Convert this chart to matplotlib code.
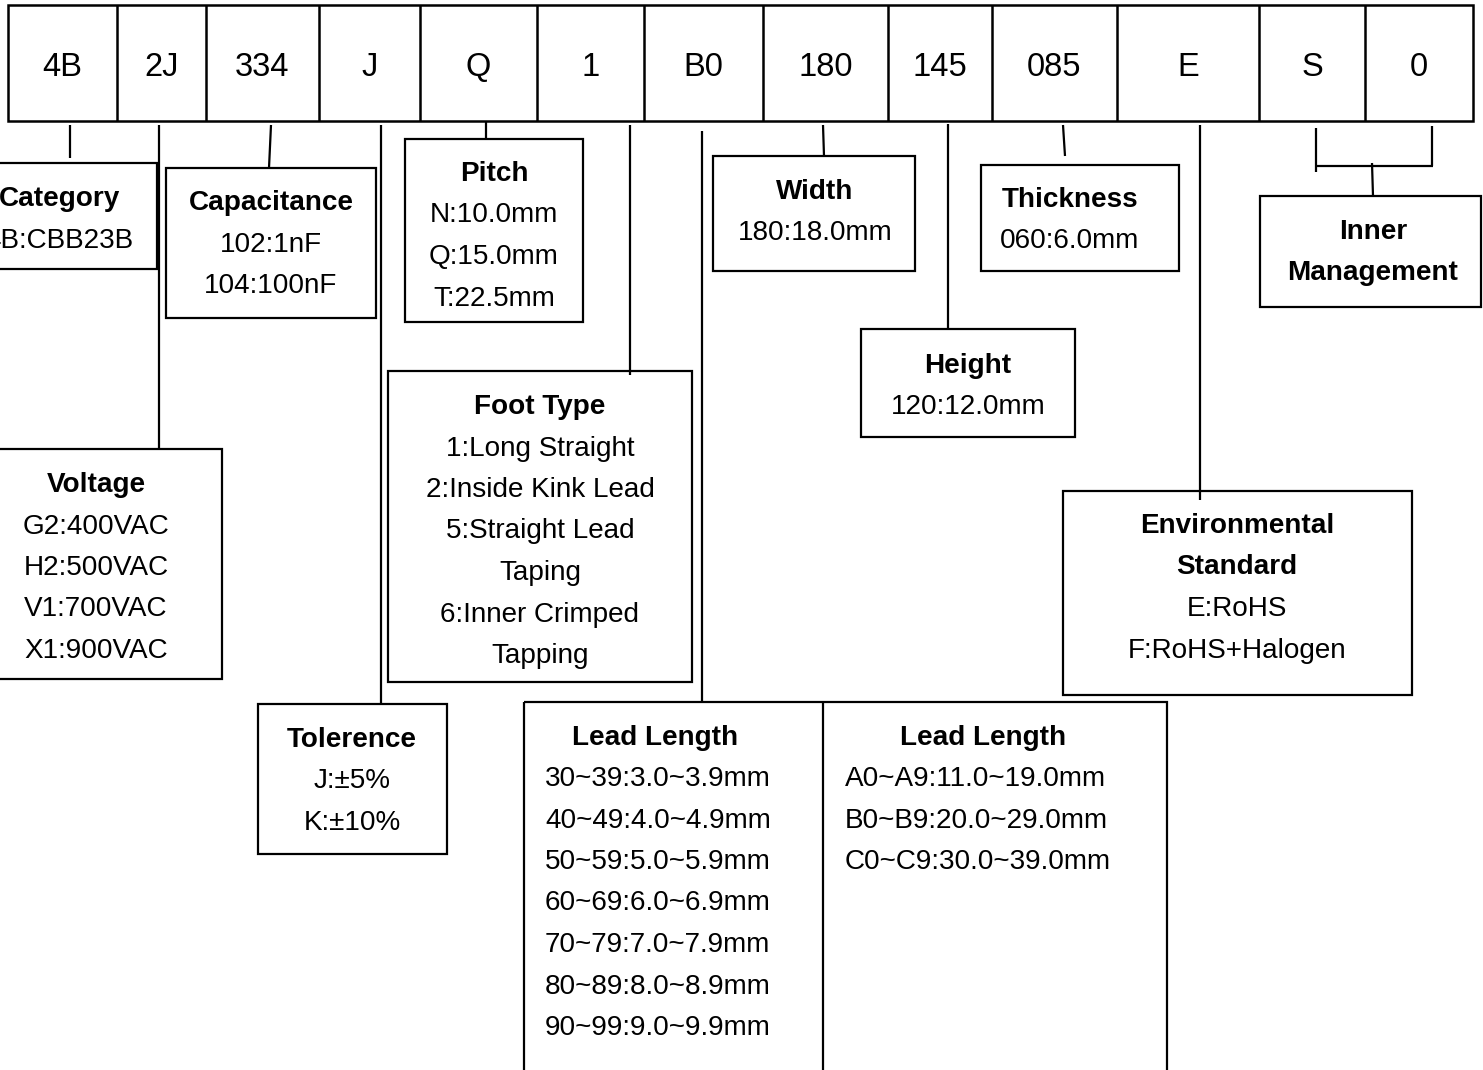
import matplotlib
matplotlib.use("Agg")
import matplotlib.pyplot as plt
from matplotlib.patches import Rectangle

# ---------------- data ----------------
codes = ["4B", "2J", "334", "J", "Q", "1", "B0", "180", "145", "085", "E", "S", "0"]

category_title = ["Category"]
category_lines = ["4B:CBB23B"]
voltage_title = ["Voltage"]
voltage_lines = ["G2:400VAC", "H2:500VAC", "V1:700VAC", "X1:900VAC"]
capacitance_title = ["Capacitance"]
capacitance_lines = ["102:1nF", "104:100nF"]
tolerance_title = ["Tolerence"]
tolerance_lines = ["J:±5%", "K:±10%"]
pitch_title = ["Pitch"]
pitch_lines = ["N:10.0mm", "Q:15.0mm", "T:22.5mm"]
foot_title = ["Foot Type"]
foot_lines = ["1:Long Straight", "2:Inside Kink Lead", "5:Straight Lead", "Taping",
              "6:Inner Crimped", "Tapping"]
width_title = ["Width"]
width_lines = ["180:18.0mm"]
height_title = ["Height"]
height_lines = ["120:12.0mm"]
thickness_title = ["Thickness"]
thickness_lines = ["060:6.0mm"]
env_title = ["Environmental", "Standard"]
env_lines = ["E:RoHS", "F:RoHS+Halogen"]
inner_title = ["Inner", "Management"]
inner_lines = []
lead_title = "Lead Length"
lead_short_lines = ["30~39:3.0~3.9mm", "40~49:4.0~4.9mm", "50~59:5.0~5.9mm",
                    "60~69:6.0~6.9mm", "70~79:7.0~7.9mm", "80~89:8.0~8.9mm",
                    "90~99:9.0~9.9mm"]
lead_long_lines = ["A0~A9:11.0~19.0mm", "B0~B9:20.0~29.0mm", "C0~C9:30.0~39.0mm"]

# ---------------- layout (pixel coordinates) ----------------
W, H = 1483, 1070
FONT = "Liberation Sans"
FS_TOP = 23.5
FS = 20.1
LSP = 41.5          # line spacing
CAP = 10.0          # half cap height (px) for baseline placement
LW = 1.6

cell_edges = [8, 117, 206, 319, 420, 537, 644, 763, 888, 992, 1117, 1259, 1365, 1473]
row_top, row_bot = 5, 121

fig = plt.figure(figsize=(W / 100, H / 100), dpi=100)
ax = fig.add_axes([0, 0, 1, 1])
ax.set_xlim(0, W)
ax.set_ylim(H, 0)
ax.axis("off")


def line(xs, ys, lw=LW):
    ax.plot(xs, ys, color="black", lw=lw, solid_capstyle="butt")


def rect(x0, y0, x1, y1, lw=LW):
    ax.add_patch(Rectangle((x0, y0), x1 - x0, y1 - y0, fill=False,
                           edgecolor="black", lw=lw, joinstyle="miter"))


def txt(x, yc, s, bold=False, size=FS, ha="center", cap=CAP):
    ax.text(x, yc + cap, s, ha=ha, va="baseline", fontsize=size,
            fontweight="bold" if bold else "normal", family=FONT, color="black")


def box(x0, y0, x1, y1, title, lines, cx, y_first):
    rect(x0, y0, x1, y1)
    y = y_first
    for t in title:
        txt(cx, y, t, bold=True)
        y += LSP
    for t in lines:
        txt(cx, y, t)
        y += LSP


# top code row
rect(cell_edges[0], row_top, cell_edges[-1], row_bot, lw=1.8)
for xe in cell_edges[1:-1]:
    line([xe, xe], [row_top, row_bot], lw=1.8)
for i, c in enumerate(codes):
    cx = (cell_edges[i] + cell_edges[i + 1]) / 2
    txt(cx, 64, c, size=FS_TOP, cap=11.7)

# connectors
line([70, 70], [125, 158])                 # category
line([159, 159], [125, 449])               # voltage
line([271, 269], [125, 168])               # capacitance
line([381, 381], [125, 704])               # tolerance
line([486, 486], [122, 139])               # pitch
line([630, 630], [125, 375])               # foot type
line([702, 702], [131, 702])               # lead length
line([823, 824], [125, 156])               # width
line([948, 948], [124, 329])               # height
line([1063, 1065], [125, 156])             # thickness
line([1200, 1200], [125, 500])             # environmental
line([1316, 1316], [128, 172])             # inner bracket
line([1432, 1432], [126, 166])
line([1316, 1433], [166, 166])
line([1372, 1373], [163, 196])

# description boxes
box(-39, 163, 157, 269, category_title, category_lines, 59, 196)
box(-30, 449, 222, 679, voltage_title, voltage_lines, 96, 482)
box(166, 168, 376, 318, capacitance_title, capacitance_lines, 271, 200)
box(258, 704, 447, 854, tolerance_title, tolerance_lines, 352, 737)
box(405, 139, 583, 322, pitch_title, pitch_lines, 494, 171)
box(388, 371, 692, 682, foot_title, foot_lines, 540, 404)
box(713, 156, 915, 271, width_title, width_lines, 815, 189)
box(861, 329, 1075, 437, height_title, height_lines, 968, 363)
box(981, 165, 1179, 271, thickness_title, thickness_lines, 1070, 197)
box(1063, 491, 1412, 695, env_title, env_lines, 1237, 523)
box(1260, 196, 1481, 307, inner_title, inner_lines, 1373, 229)

# lead length two-column box
rect(524, 702, 1167, 1090)
line([823, 823], [702, 1090])
txt(655, 735, lead_title, bold=True)
txt(983, 735, lead_title, bold=True)
y = 776
for s in lead_short_lines:
    txt(545, y, s, ha="left")
    y += LSP
y = 776
for s in lead_long_lines:
    txt(845, y, s, ha="left")
    y += LSP

fig.savefig("out.png", dpi=100, facecolor="white")
